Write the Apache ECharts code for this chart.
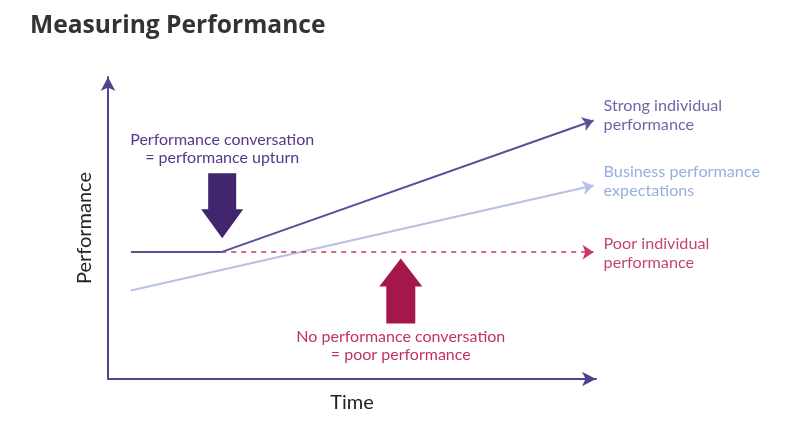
<!DOCTYPE html>
<html><head><meta charset="utf-8">
<script src="https://cdn.jsdelivr.net/npm/echarts@6/dist/echarts.min.js"></script>
<style>html,body{margin:0;padding:0;background:#fff}#c{width:786px;height:426px}</style>
</head><body><div id="c"></div>
<script>
// ---- data ----
const titleText = 'Measuring Performance';
const xName = 'Time';
const yName = 'Performance';
const strongFlat = [[4.7, 42], [23.2, 42]];
const strongRise = [[23.2, 42], [99.5, 85.6]];
const business = [[4.7, 29.3], [99.5, 64.1]];
const poor = [[23.2, 42], [99.5, 42]];
const downArrowAt = [23.4, 57.4];
const upArrowAt = [60.0, 29.1];
const strongLabel = ['Strong individual', 'performance'];
const businessLabel = ['Business performance', 'expectations'];
const poorLabel = ['Poor individual', 'performance'];
const topNote = ['Performance conversation', '= performance upturn'];
const bottomNote = ['No performance conversation', '= poor performance'];

const FONT = 'Lato';
const chart = echarts.init(document.getElementById('c'), null, {renderer: 'canvas'});

function lineSeries(coords, color, width, type, arrow) {
  return {
    type: 'lines', coordinateSystem: 'cartesian2d', z: 3,
    symbol: arrow ? ['none', 'arrow'] : ['none', 'none'],
    symbolSize: 11,
    lineStyle: {color: color, width: width, type: type, opacity: 1},
    data: [{coords: coords}]
  };
}
function endLabel(coords, lines, color, dy) {
  return {
    type: 'scatter', z: 5, symbolSize: 0, silent: true,
    label: {show: true, position: 'right', distance: 10, offset: [0, dy],
      formatter: lines.join('\n'), color: color, fontFamily: FONT,
      fontSize: 16.2, lineHeight: 19, align: 'left'},
    data: [coords[coords.length - 1]]
  };
}

const option = {
  animation: false,
  title: {
    text: titleText, left: 25, top: 8,
    textStyle: {fontFamily: 'Open Sans', fontSize: 24.6, fontWeight: 'bold', color: '#333'}
  },
  grid: {left: 108, right: 190, top: 77, bottom: 47},
  xAxis: {
    type: 'value', min: 0, max: 100,
    name: xName, nameLocation: 'middle', nameGap: 14,
    nameTextStyle: {fontFamily: FONT, fontSize: 20, color: '#222'},
    axisLine: {show: true, symbol: ['none', 'arrow'], symbolSize: [11, 14],
      lineStyle: {color: '#54428f', width: 2}},
    axisTick: {show: false}, axisLabel: {show: false}, splitLine: {show: false}
  },
  yAxis: {
    type: 'value', min: 0, max: 100,
    name: yName, nameLocation: 'middle', nameGap: 13,
    nameTextStyle: {fontFamily: FONT, fontSize: 20, color: '#222'},
    axisLine: {show: true, symbol: ['none', 'arrow'], symbolSize: [11, 14],
      lineStyle: {color: '#54428f', width: 2}},
    axisTick: {show: false}, axisLabel: {show: false}, splitLine: {show: false}
  },
  series: [
    lineSeries(business, '#b7c0e6', 2, 'solid', true),
    lineSeries(poor, '#c8366a', 1.5, [5, 5], true),
    lineSeries(strongFlat, '#5b4f98', 2, 'solid', false),
    lineSeries(strongRise, '#5b4f98', 2, 'solid', true),
    endLabel(strongRise, strongLabel, '#4b3d8c', -5),
    endLabel(business, businessLabel, '#7f99d5', -4),
    endLabel(poor, poorLabel, '#b3134d', 1),
    {
      type: 'scatter', z: 4,
      symbol: 'path://M7,0 L35,0 L35,36 L42,36 L21,65 L0,36 L7,36 Z',
      symbolSize: [42, 65], symbolKeepAspect: false,
      itemStyle: {color: '#41266e', opacity: 1},
      label: {show: true, position: 'top', distance: 6, formatter: topNote.join('\n'),
        color: '#55388a', fontFamily: FONT, fontSize: 16, lineHeight: 18, align: 'center'},
      data: [downArrowAt]
    },
    {
      type: 'scatter', z: 4,
      symbol: 'path://M21.5,0 L43,28 L36,28 L36,65 L7,65 L7,28 L0,28 Z',
      symbolSize: [43, 65],
      itemStyle: {color: '#a5164d', opacity: 1},
      label: {show: true, position: 'bottom', distance: 4, formatter: bottomNote.join('\n'),
        color: '#c2306a', fontFamily: FONT, fontSize: 16, lineHeight: 18, align: 'center'},
      data: [upArrowAt]
    }
  ]
};
chart.setOption(option);
</script></body></html>
